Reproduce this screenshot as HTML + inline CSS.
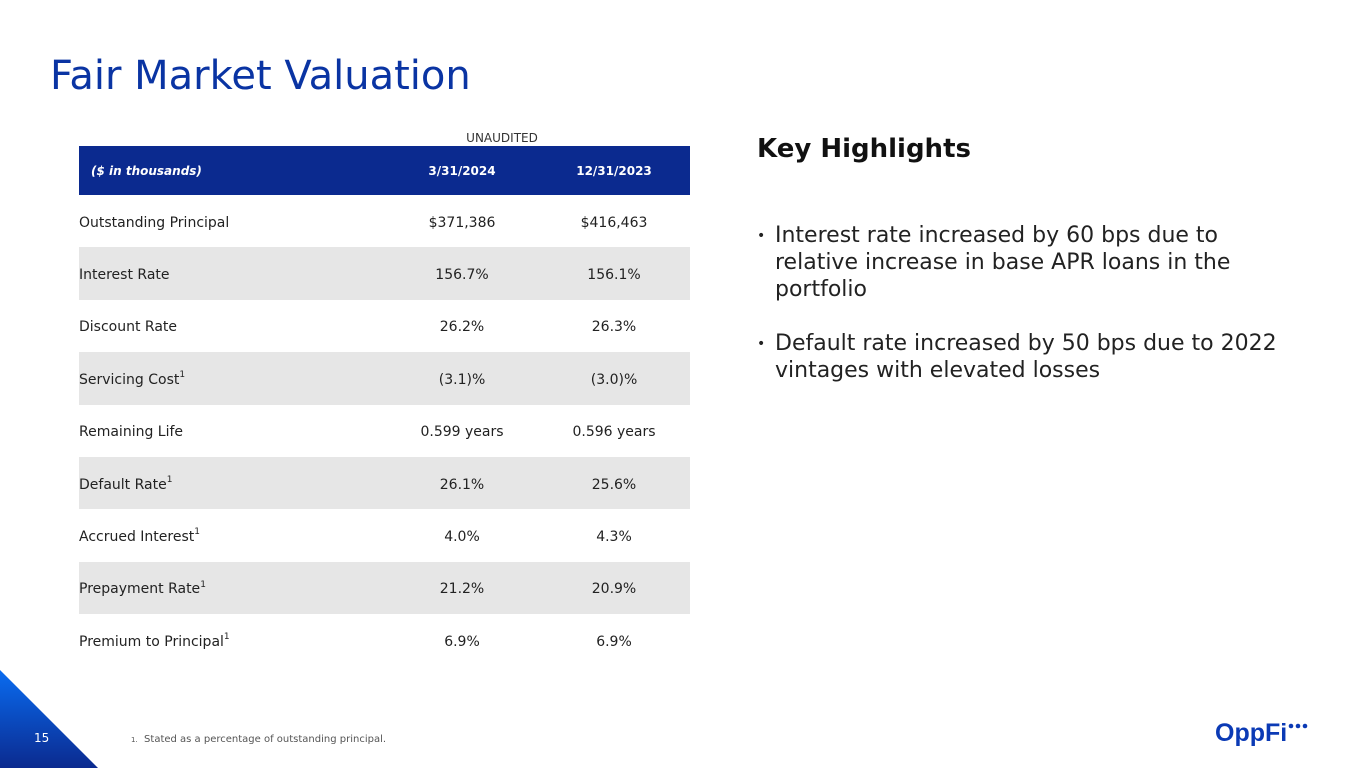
<!DOCTYPE html>
<html><head><meta charset="utf-8"><style>
body{margin:0;width:1365px;height:768px;position:relative;background:#fff;font-family:"DejaVu Sans","Liberation Sans",sans-serif;overflow:hidden}
.abs{position:absolute}
table{border-collapse:collapse;position:absolute;left:79px;top:146px;width:611px;table-layout:fixed}
td{font-size:14px;color:#222;height:52.4px;padding:0;padding-top:3px;box-sizing:border-box}
td.c{text-align:center}
tr.g td{background:#e6e6e6}
tr.h td{background:#0b2a8f;color:#fff;font-weight:bold;font-size:12px;height:49px;padding-top:0}
sup{font-size:9px;line-height:0;position:relative;top:-1px;vertical-align:super}
</style></head><body>
<div class="abs" style="left:50px;top:53px;font-size:40px;color:#0a34a3">Fair Market Valuation</div>
<div class="abs" style="left:432px;top:131px;font-size:12px;color:#333;width:140px;text-align:center">UNAUDITED</div>
<table>
<colgroup><col style="width:307px"><col style="width:152px"><col style="width:152px"></colgroup>
<tr class="h"><td style="padding-left:12px;font-style:italic">($ in thousands)</td><td class="c">3/31/2024</td><td class="c">12/31/2023</td></tr>
<tr><td>Outstanding Principal</td><td class="c">$371,386</td><td class="c">$416,463</td></tr>
<tr class="g"><td>Interest Rate</td><td class="c">156.7%</td><td class="c">156.1%</td></tr>
<tr><td>Discount Rate</td><td class="c">26.2%</td><td class="c">26.3%</td></tr>
<tr class="g"><td>Servicing Cost<sup>1</sup></td><td class="c">(3.1)%</td><td class="c">(3.0)%</td></tr>
<tr><td>Remaining Life</td><td class="c">0.599 years</td><td class="c">0.596 years</td></tr>
<tr class="g"><td>Default Rate<sup>1</sup></td><td class="c">26.1%</td><td class="c">25.6%</td></tr>
<tr><td>Accrued Interest<sup>1</sup></td><td class="c">4.0%</td><td class="c">4.3%</td></tr>
<tr class="g"><td>Prepayment Rate<sup>1</sup></td><td class="c">21.2%</td><td class="c">20.9%</td></tr>
<tr><td>Premium to Principal<sup>1</sup></td><td class="c">6.9%</td><td class="c">6.9%</td></tr>
</table>
<div class="abs" style="left:757px;top:134px;font-size:26px;font-weight:bold;color:#111">Key Highlights</div>
<div class="abs" style="left:757px;top:222px;width:500px;font-size:22px;line-height:27px;color:#222"><span style="position:absolute;left:0;top:1px;font-size:14px">•</span><div style="margin-left:18px">Interest rate increased by 60 bps due to relative increase in base APR loans in the portfolio</div></div>
<div class="abs" style="left:757px;top:330px;width:560px;font-size:22px;line-height:27px;color:#222"><span style="position:absolute;left:0;top:1px;font-size:14px">•</span><div style="margin-left:18px">Default rate increased by 50 bps due to 2022 vintages with elevated losses</div></div>
<svg class="abs" style="left:0;top:668px" width="100" height="100"><defs><linearGradient id="g" x1="0" y1="0" x2="0" y2="1"><stop offset="0" stop-color="#0a6cf0"/><stop offset="1" stop-color="#0b2a8f"/></linearGradient></defs><polygon points="0,2 98,100 0,100" fill="url(#g)"/></svg>
<div class="abs" style="left:34px;top:731px;font-size:12px;color:#fff">15</div>
<div class="abs" style="left:131px;top:734px;font-size:10px;color:#555"><span style="font-size:7px">1.</span>&nbsp; Stated as a percentage of outstanding principal.</div>
<div class="abs" style="left:1215px;top:719px;font-size:25px;font-weight:bold;color:#0b3ab5;font-family:'Liberation Sans',sans-serif">OppFi</div>
<svg class="abs" style="left:1287px;top:722px" width="22" height="8"><circle cx="4" cy="4" r="2.3" fill="#0b3ab5"/><circle cx="11" cy="4" r="2.3" fill="#0b3ab5"/><circle cx="18" cy="4" r="2.3" fill="#0b3ab5"/></svg>
</body></html>
